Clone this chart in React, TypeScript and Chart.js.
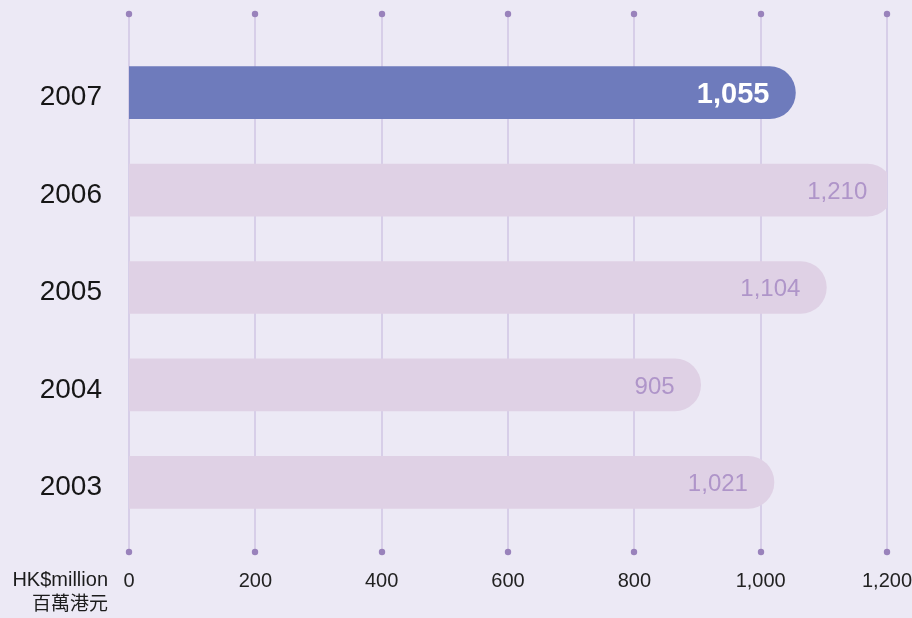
import React, { useEffect, useRef } from "react";
import { Chart, registerables } from "chart.js";

Chart.register(...registerables);

const years = ["2007", "2006", "2005", "2004", "2003"];
const values = [1055, 1210, 1104, 905, 1021];
const valueLabels = ["1,055", "1,210", "1,104", "905", "1,021"];
const xTicks = [0, 200, 400, 600, 800, 1000, 1200];
const unitLabels = ["HK$million", "百萬港元"];

const BG = "#ECE9F5";
const FONT = "'Liberation Sans', Arial, sans-serif";

export default function App() {
  const ref = useRef<HTMLCanvasElement | null>(null);

  useEffect(() => {
    if (!ref.current) return;

    const gridPlugin = {
      id: "gridDots",
      beforeDatasetsDraw(chart: any) {
        const ctx = chart.ctx;
        const xs = chart.scales.x;
        ctx.save();
        xs.ticks.forEach((t: any) => {
          const px = Math.round(xs.getPixelForValue(t.value));
          ctx.strokeStyle = "rgba(205,192,224,0.65)";
          ctx.lineWidth = 2;
          ctx.beginPath();
          ctx.moveTo(px, 14);
          ctx.lineTo(px, 552);
          ctx.stroke();
          ctx.fillStyle = "#9982BB";
          [14, 552].forEach((y) => {
            ctx.beginPath();
            ctx.arc(px, y, 3.2, 0, Math.PI * 2);
            ctx.fill();
          });
        });
        ctx.restore();
      },
    };

    const labelPlugin = {
      id: "valueLabels",
      afterDatasetsDraw(chart: any) {
        const ctx = chart.ctx;
        const meta = chart.getDatasetMeta(0);
        ctx.save();
        ctx.textAlign = "right";
        ctx.textBaseline = "middle";
        meta.data.forEach((bar: any, i: number) => {
          if (i === 0) {
            ctx.font = `bold 29px ${FONT}`;
            ctx.fillStyle = "#FFFFFF";
          } else {
            ctx.font = `24px ${FONT}`;
            ctx.fillStyle = "#AF95C9";
          }
          ctx.fillText(valueLabels[i], bar.x - 26, bar.y + 2);
        });
        // unit labels
        ctx.fillStyle = "#1c1c1c";
        ctx.textAlign = "right";
        ctx.font = `20px ${FONT}`;
        ctx.fillText(unitLabels[0], 108, 580);
        ctx.font = `19px 'Noto Sans CJK TC', sans-serif`;
        ctx.fillText(unitLabels[1], 108, 603);
        ctx.restore();
      },
    };

    const chart = new Chart(ref.current, {
      type: "bar",
      data: {
        labels: years,
        datasets: [
          {
            data: values,
            backgroundColor: values.map((_, i) =>
              i === 0 ? "#6E7BBC" : "#DFD1E5"
            ),
            barThickness: 52,
            borderSkipped: "start",
            borderRadius: { topLeft: 0, bottomLeft: 0, topRight: 26, bottomRight: 26 },
          },
        ],
      },
      options: {
        indexAxis: "y",
        animation: false,
        responsive: false,
        maintainAspectRatio: false,
        layout: { padding: { top: 44, right: 25, left: 0, bottom: 0 } },
        plugins: {
          legend: { display: false },
          tooltip: { enabled: false },
        },
        scales: {
          x: {
            type: "linear",
            min: 0,
            max: 1200,
            afterBuildTicks: (scale: any) => {
              scale.ticks = xTicks.map((v) => ({ value: v }));
            },
            afterFit: (scale: any) => {
              scale.height = 87;
              scale.paddingLeft = 0;
              scale.paddingRight = 0;
            },
            grid: { display: false, drawTicks: false },
            border: { display: false },
            ticks: {
              padding: 38,
              color: "#222222",
              font: { size: 20, family: FONT },
              maxRotation: 0,
              callback: (v: any) => Number(v).toLocaleString("en-US"),
            },
          },
          y: {
            afterFit: (scale: any) => {
              scale.width = 129;
              scale.paddingTop = 0;
              scale.paddingBottom = 0;
            },
            grid: { display: false, drawTicks: false },
            border: { display: false },
            ticks: {
              padding: 27,
              labelOffset: 5,
              color: "#161616",
              font: { size: 28, family: FONT },
            },
          },
        },
      },
      plugins: [gridPlugin, labelPlugin],
    });

    return () => chart.destroy();
  }, []);

  return (
    <div
      style={{
        position: "fixed",
        left: 0,
        top: 0,
        width: 912,
        height: 618,
        background: BG,
      }}
    >
      <canvas ref={ref} width={912} height={618} style={{ display: "block" }} />
    </div>
  );
}
